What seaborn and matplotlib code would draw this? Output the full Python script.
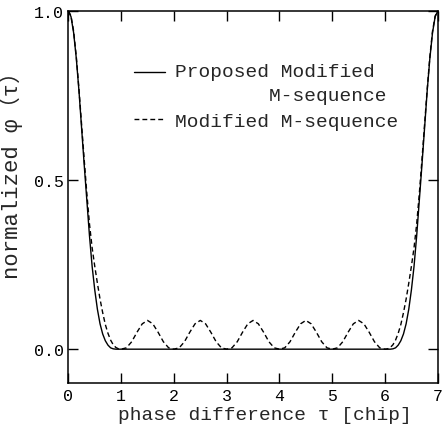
import matplotlib
matplotlib.use("Agg")
import matplotlib.pyplot as plt
import seaborn as sns

# phase difference sampling points [chip]
tau = [0.00, 0.05, 0.10, 0.15, 0.20, 0.25, 0.30, 0.35, 0.40, 0.45,
       0.50, 0.55, 0.60, 0.65, 0.70, 0.75, 0.80, 0.85, 0.90, 0.95,
       1.00, 1.10, 1.20, 1.30, 1.40, 1.50, 1.60, 1.70, 1.80, 1.90,
       2.00, 2.10, 2.20, 2.30, 2.40, 2.50, 2.60, 2.70, 2.80, 2.90,
       3.00, 3.10, 3.20, 3.30, 3.40, 3.50, 3.60, 3.70, 3.80, 3.90,
       4.00, 4.10, 4.20, 4.30, 4.40, 4.50, 4.60, 4.70, 4.80, 4.90,
       5.00, 5.10, 5.20, 5.30, 5.40, 5.50, 5.60, 5.70, 5.80, 5.90,
       6.00, 6.05, 6.10, 6.15, 6.20, 6.25, 6.30, 6.35, 6.40, 6.45,
       6.50, 6.55, 6.60, 6.65, 6.70, 6.75, 6.80, 6.85, 6.90, 6.95,
       7.00]

# proposed modified M-sequence (solid)
proposed = [1.000, 0.983, 0.935, 0.860, 0.765, 0.655, 0.545, 0.440, 0.335, 0.245,
            0.175, 0.118, 0.075, 0.045, 0.025, 0.012, 0.004, 0.001, 0.000, 0.000,
            0.000, 0.000, 0.000, 0.000, 0.000, 0.000, 0.000, 0.000, 0.000, 0.000,
            0.000, 0.000, 0.000, 0.000, 0.000, 0.000, 0.000, 0.000, 0.000, 0.000,
            0.000, 0.000, 0.000, 0.000, 0.000, 0.000, 0.000, 0.000, 0.000, 0.000,
            0.000, 0.000, 0.000, 0.000, 0.000, 0.000, 0.000, 0.000, 0.000, 0.000,
            0.000, 0.000, 0.000, 0.000, 0.000, 0.000, 0.000, 0.000, 0.000, 0.000,
            0.000, 0.000, 0.000, 0.001, 0.004, 0.012, 0.025, 0.045, 0.075, 0.118,
            0.175, 0.245, 0.335, 0.440, 0.545, 0.655, 0.765, 0.860, 0.935, 0.983,
            1.000]

# modified M-sequence (dashed)
modified = [1.000, 0.985, 0.940, 0.865, 0.770, 0.665, 0.560, 0.460, 0.370, 0.300,
            0.245, 0.195, 0.148, 0.108, 0.073, 0.047, 0.027, 0.013, 0.005, 0.001,
            0.000, 0.004, 0.022, 0.050, 0.075, 0.085, 0.075, 0.050, 0.022, 0.004,
            0.000, 0.004, 0.022, 0.050, 0.075, 0.085, 0.075, 0.050, 0.022, 0.004,
            0.000, 0.004, 0.022, 0.050, 0.075, 0.085, 0.075, 0.050, 0.022, 0.004,
            0.000, 0.004, 0.022, 0.050, 0.075, 0.085, 0.075, 0.050, 0.022, 0.004,
            0.000, 0.004, 0.022, 0.050, 0.075, 0.085, 0.075, 0.050, 0.022, 0.004,
            0.000, 0.001, 0.005, 0.013, 0.027, 0.047, 0.073, 0.108, 0.148, 0.195,
            0.245, 0.300, 0.370, 0.460, 0.560, 0.665, 0.770, 0.865, 0.940, 0.985,
            1.000]

x_ticks = [0, 1, 2, 3, 4, 5, 6, 7]
y_ticks = [0.0, 0.5, 1.0]
y_tick_labels = ["0.0", "0.5", "1.0"]

sns.set_style("ticks")
plt.rcParams['font.family'] = ['Liberation Mono', 'Noto Sans CJK JP', 'DejaVu Sans']

fig = plt.figure(figsize=(4.44, 4.27), dpi=100)
ax = fig.add_axes([0.154, 0.1007, 0.832, 0.8713])

sns.lineplot(x=tau, y=proposed, ax=ax, color="black", linewidth=1.0,
             label="Proposed Modified\n        M-sequence")
sns.lineplot(x=tau, y=modified, ax=ax, color="black", linewidth=1.0,
             linestyle=(0, (3.5, 2.2)), label="Modified M-sequence")

ax.set_xlim(0, 7)
ax.set_ylim(-0.1, 1.0)
ax.set_xticks(x_ticks)
ax.set_yticks(y_ticks)
ax.set_yticklabels(y_tick_labels)

for s in ax.spines.values():
    s.set_visible(True)
    s.set_linewidth(1.1)
    s.set_color("black")

ax.tick_params(direction="in", length=7, width=1.0, top=True, right=True,
               labelsize=12, pad=3.5, colors="black")

ax.set_xlabel("phase difference τ [chip]", fontsize=14)
ax.set_ylabel("normalized φ（τ）", fontsize=16)
# label anchors: top edge of the x label, right edge of the rotated y label
ax.xaxis.set_label_coords(0.532, -0.062)
ax.yaxis.set_label_coords(-0.123, 0.575)

leg = ax.legend(loc="upper left", bbox_to_anchor=(0.178, 0.86), frameon=False,
                fontsize=14, handlelength=1.6, handletextpad=0.5,
                borderpad=0, borderaxespad=0, labelspacing=0.45)
for t in leg.get_texts():
    t.set_linespacing(1.5)

# put the solid handle level with the first line of its two-line label
h = leg.legend_handles[0]
h.set_ydata([y + 8 for y in h.get_ydata()])

fig.savefig("out.png", dpi=100)
